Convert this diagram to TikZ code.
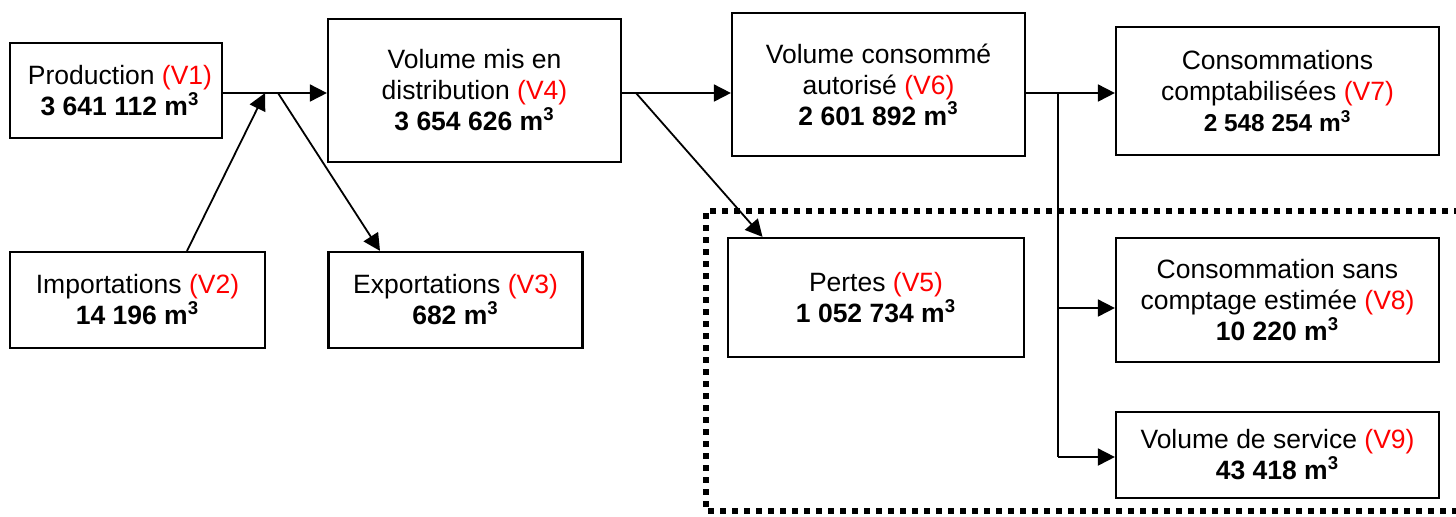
\documentclass[tikz,border=0pt]{standalone}
\usepackage{fontspec}
\setmainfont{Liberation Sans}
\usetikzlibrary{arrows.meta}
\definecolor{vred}{RGB}{255,0,0}
\newcommand{\vl}[1]{\textcolor{vred}{(#1)}}
\newcommand{\cub}{\textsuperscript{3}}
\tikzset{
  box/.style={draw=black, line width=1.1pt, rectangle, align=center, inner sep=0pt,
    font=\fontsize{13.25pt}{15.5pt}\selectfont},
  arr/.style={line width=0.9pt, -{Triangle[length=8.5pt,width=8.5pt]}},
  ln/.style={line width=0.9pt},
  dotbox/.style={line width=2.6pt, dash pattern=on 3pt off 3pt}
}
\begin{document}
\begin{tikzpicture}[x=0.5pt,y=-0.5pt]
\useasboundingbox (0,0) rectangle (1456,516);
% dotted region
\draw[dotbox] (1460,211) -- (706,211) -- (706,511) -- (1460,511);
% boxes
\node[box, minimum width=106pt, minimum height=47.5pt] (prod) at (116,90.5)
  {\hspace*{4pt}Production \vl{V1}\\ \hspace*{4pt}\textbf{3 641 112 m\cub}};
\node[box, minimum width=127.5pt, minimum height=48pt] (imp) at (137.5,300)
  {Importations \vl{V2}\\ \textbf{14 196 m\cub}};
\node[box, minimum width=127pt, minimum height=48pt] (exp) at (455.5,300)
  {Exportations \vl{V3}\\ \textbf{682 m\cub}};
\node[box, minimum width=146.5pt, minimum height=71.5pt] (v4) at (474.5,90.5)
  {Volume mis en\\ distribution \vl{V4}\\ \textbf{3 654 626 m\cub}};
\node[box, minimum width=146.5pt, minimum height=71.5pt] (v6) at (878.5,84.5)
  {Volume consommé\\ autorisé \vl{V6}\\ \textbf{2 601 892 m\cub}};
\node[box, minimum width=161.5pt, minimum height=64pt] (v7) at (1277.5,91)
  {Consommations\\ comptabilisées \vl{V7}\\ \textbf{\fontsize{12.2pt}{15.5pt}\selectfont 2 548 254 m\cub}};
\node[box, minimum width=148pt, minimum height=59.5pt] (v5) at (876,297.5)
  {Pertes \vl{V5}\\ \textbf{1 052 734 m\cub}};
\node[box, minimum width=161.5pt, minimum height=62pt] (v8) at (1277.5,300)
  {Consommation sans\\ comptage estimée \vl{V8}\\ \textbf{10 220 m\cub}};
\node[box, minimum width=161.5pt, minimum height=43pt] (v9) at (1277.5,455)
  {Volume de service \vl{V9}\\ \textbf{43 418 m\cub}};
% junction coordinates
\coordinate (j1) at (265,93);
\coordinate (j2) at (278,93);
\coordinate (j3) at (636,93);
\coordinate (j4) at (1058,93);
\coordinate (j5) at (1058,308);
\coordinate (j6) at (1058,457);
% connectors
\draw[arr] (prod.east |- j1) -- (v4.west |- j1);
\draw[arr] ([xshift=24.75pt]imp.north) -- (j1);
\draw[arr] (j2) -- ([xshift=-37.75pt]exp.north);
\draw[arr] (v4.east |- j3) -- (v6.west |- j3);
\draw[arr] (j3) -- ([xshift=-56.75pt]v5.north);
\draw[arr] (v6.east |- j4) -- (v7.west |- j4);
\draw[ln] (j4) -- (j6);
\draw[arr] (j5) -- (v8.west |- j5);
\draw[arr] (j6) -- (v9.west |- j6);
\end{tikzpicture}
\end{document}
